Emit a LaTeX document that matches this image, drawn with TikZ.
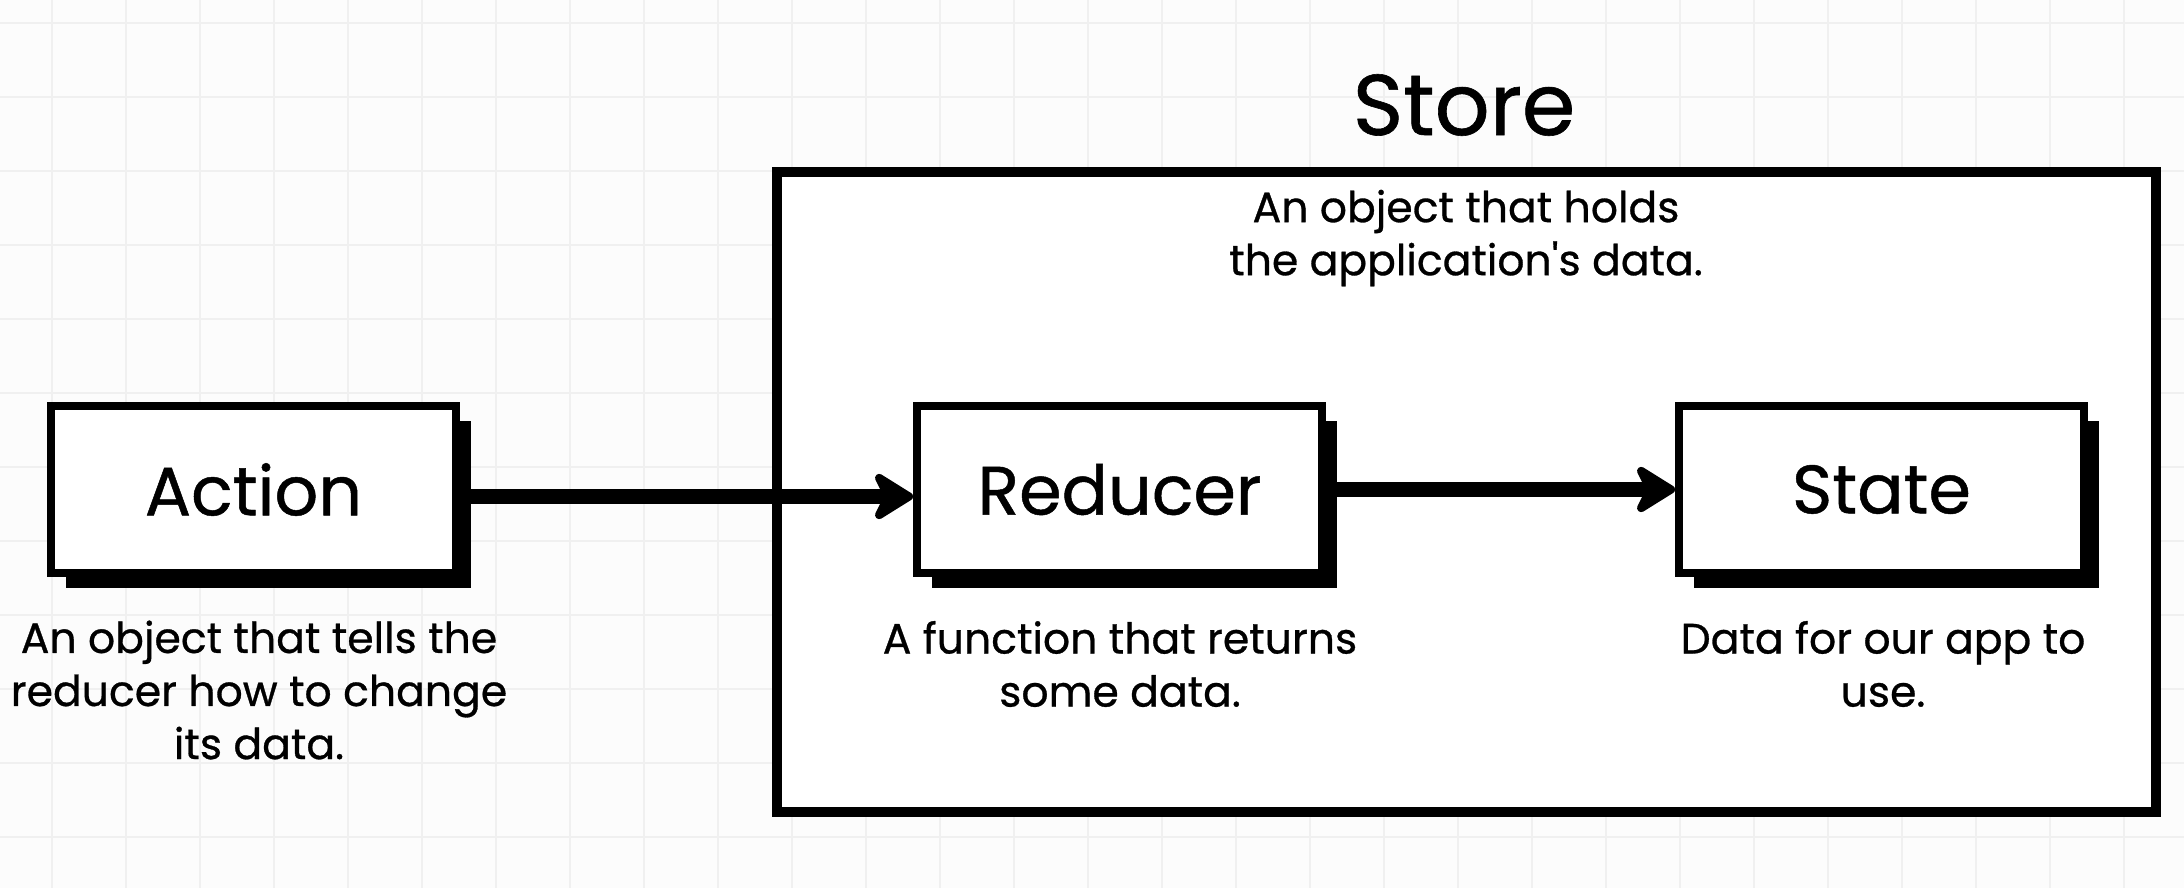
\documentclass[tikz,border=0pt]{standalone}
\usepackage{fontspec}
\setmainfont{Poppins}[FakeBold=0.7]
\usetikzlibrary{arrows.meta, positioning, shadows}

\tikzset{
    paper/.style={fill=black!1},
    gridline/.style={draw=black!6, line width=0.025cm},
    block/.style={draw, line width=0.08cm, fill=white,
        minimum width=4.05cm, minimum height=1.67cm,
        font=\fontsize{19.5}{23}\selectfont,
        drop shadow={shadow xshift=0.15cm, shadow yshift=-0.15cm, opacity=1, fill=black}},
    storebox/.style={draw, line width=0.1cm, fill=white,
        minimum width=13.79cm, minimum height=6.40cm},
    note/.style={align=center, font=\fontsize{12.1}{15.1}\selectfont},
    flow/.style={line width=0.15cm,
        -{Stealth[length=0.47cm, width=0.58cm, inset=0.14cm, round]}},
}

\begin{document}
\begin{tikzpicture}
    % page and grid
    \useasboundingbox (0,0) rectangle (21.84,8.88);
    \fill[paper] (0,0) rectangle (21.84,8.88);
    \foreach \x in {0,...,28} \draw[gridline] (0.52+0.74*\x,0) -- (0.52+0.74*\x,8.88);
    \foreach \y in {0,...,11} \draw[gridline] (0,8.65-0.74*\y) -- (21.84,8.65-0.74*\y);

    % Store
    \node[storebox] (store) at (14.665, 3.96) {};
    \node[anchor=base, font=\fontsize{24.5}{28}\selectfont] (storetitle) at (14.64, 7.53) {Store};
    \node[note] (storetxt) at (14.66, 6.50) {An object that holds\\the application\textquotesingle s data.};

    % Blocks
    \node[block] (action) at (2.535, 3.985) {Action};
    \node[block] (reducer) at (11.195, 3.985) {Reducer};
    \node[block] (state) at (18.815, 3.985) {State};

    % Descriptions
    \node[note] (actiontxt) at (2.59, 1.98) {An object that tells the\\reducer how to change\\its data.};
    \node[note] (reducertxt) at (11.2, 2.24) {A function that returns\\some data.};
    \node[note] (statetxt) at (18.83, 2.24) {Data for our app to\\use.};

    % Flow
    \draw[flow] ([yshift=-0.07cm]action.east) -- ([yshift=-0.07cm]reducer.west);
    \draw[flow] (reducer) -- (state);
\end{tikzpicture}
\end{document}
